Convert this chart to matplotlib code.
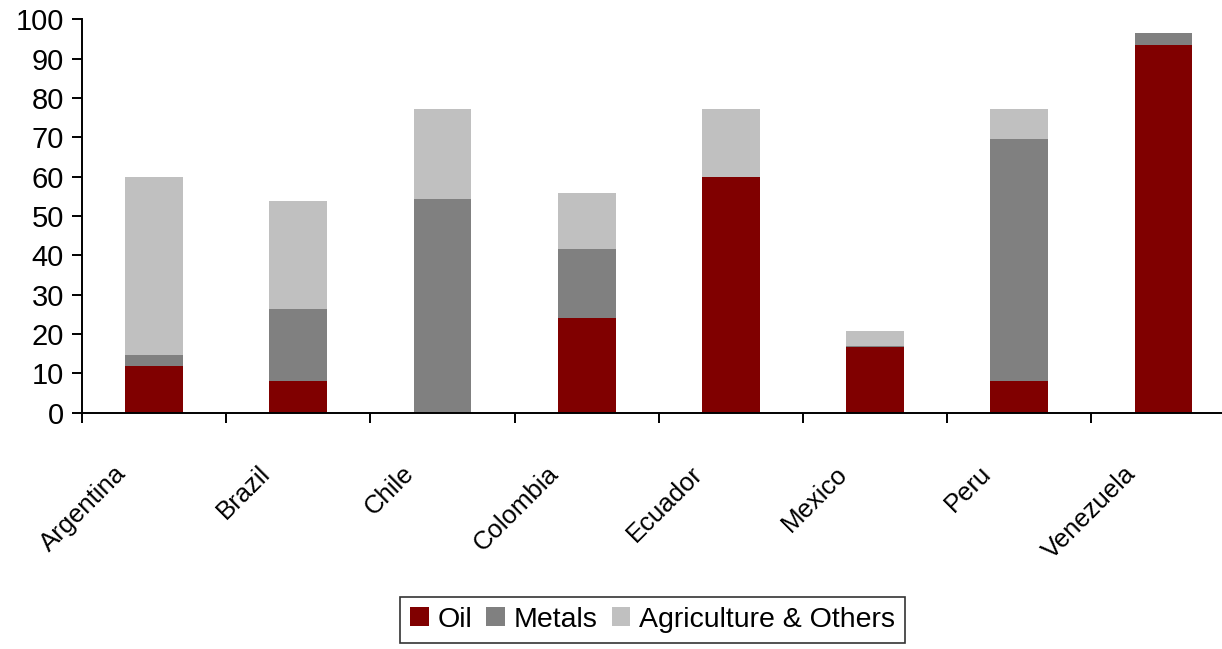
import numpy as np
import matplotlib.pyplot as plt

plt.rcParams['font.family'] = ['Liberation Sans', 'DejaVu Sans']

countries = ['Argentina', 'Brazil', 'Chile', 'Colombia', 'Ecuador', 'Mexico', 'Peru', 'Venezuela']
oil = [12.0, 8.0, 0.0, 24.2, 60.0, 16.6, 8.0, 93.5]
metals = [2.6, 18.3, 54.4, 17.4, 0.0, 0.5, 61.7, 3.0]
agriculture = [45.3, 27.6, 22.8, 14.3, 17.2, 3.6, 7.5, 0.0]

colors = ['#800000', '#808080', '#c0c0c0']

fig = plt.figure(figsize=(12.22, 6.49), dpi=100)
ax = fig.add_axes([0.0671, 0.364, 0.944, 0.606])

x = np.arange(len(countries))
width = 0.4
bottom2 = np.array(oil)
bottom3 = bottom2 + np.array(metals)
ax.bar(x, oil, width, color=colors[0], label='Oil')
ax.bar(x, metals, width, bottom=bottom2, color=colors[1], label='Metals')
ax.bar(x, agriculture, width, bottom=bottom3, color=colors[2], label='Agriculture & Others')

ax.set_xlim(-0.5, len(countries) - 0.5)
ax.set_ylim(0, 100)
ax.set_yticks(np.arange(0, 101, 10))
ax.tick_params(axis='y', labelsize=21, length=7, width=1.4, pad=6)

# category boundaries carry the ticks, names sit under each bar
ax.set_xticks(np.arange(-0.5, len(countries)))
ax.set_xticklabels([])
ax.tick_params(axis='x', length=7, width=1.4, direction='out')
for xi, name in zip(x, countries):
    ax.annotate(name, xy=(xi, 0), xycoords=('data', 'axes fraction'),
                xytext=(-29, -35), textcoords='offset points',
                rotation=45, ha='right', va='top', rotation_mode='anchor',
                fontsize=18.5)

for side in ['top', 'right']:
    ax.spines[side].set_visible(False)
for side in ['left', 'bottom']:
    ax.spines[side].set_linewidth(1.4)

leg = fig.legend(loc='upper center', bbox_to_anchor=(0.534, 1 - 597 / 649), ncol=3,
                 fontsize=20.5, frameon=True, fancybox=False, edgecolor='black',
                 handlelength=0.65, handleheight=0.65, handletextpad=0.3,
                 columnspacing=0.5, borderpad=0.35, borderaxespad=0)
leg.get_frame().set_linewidth(1.2)

fig.savefig('out.png', dpi=100)
